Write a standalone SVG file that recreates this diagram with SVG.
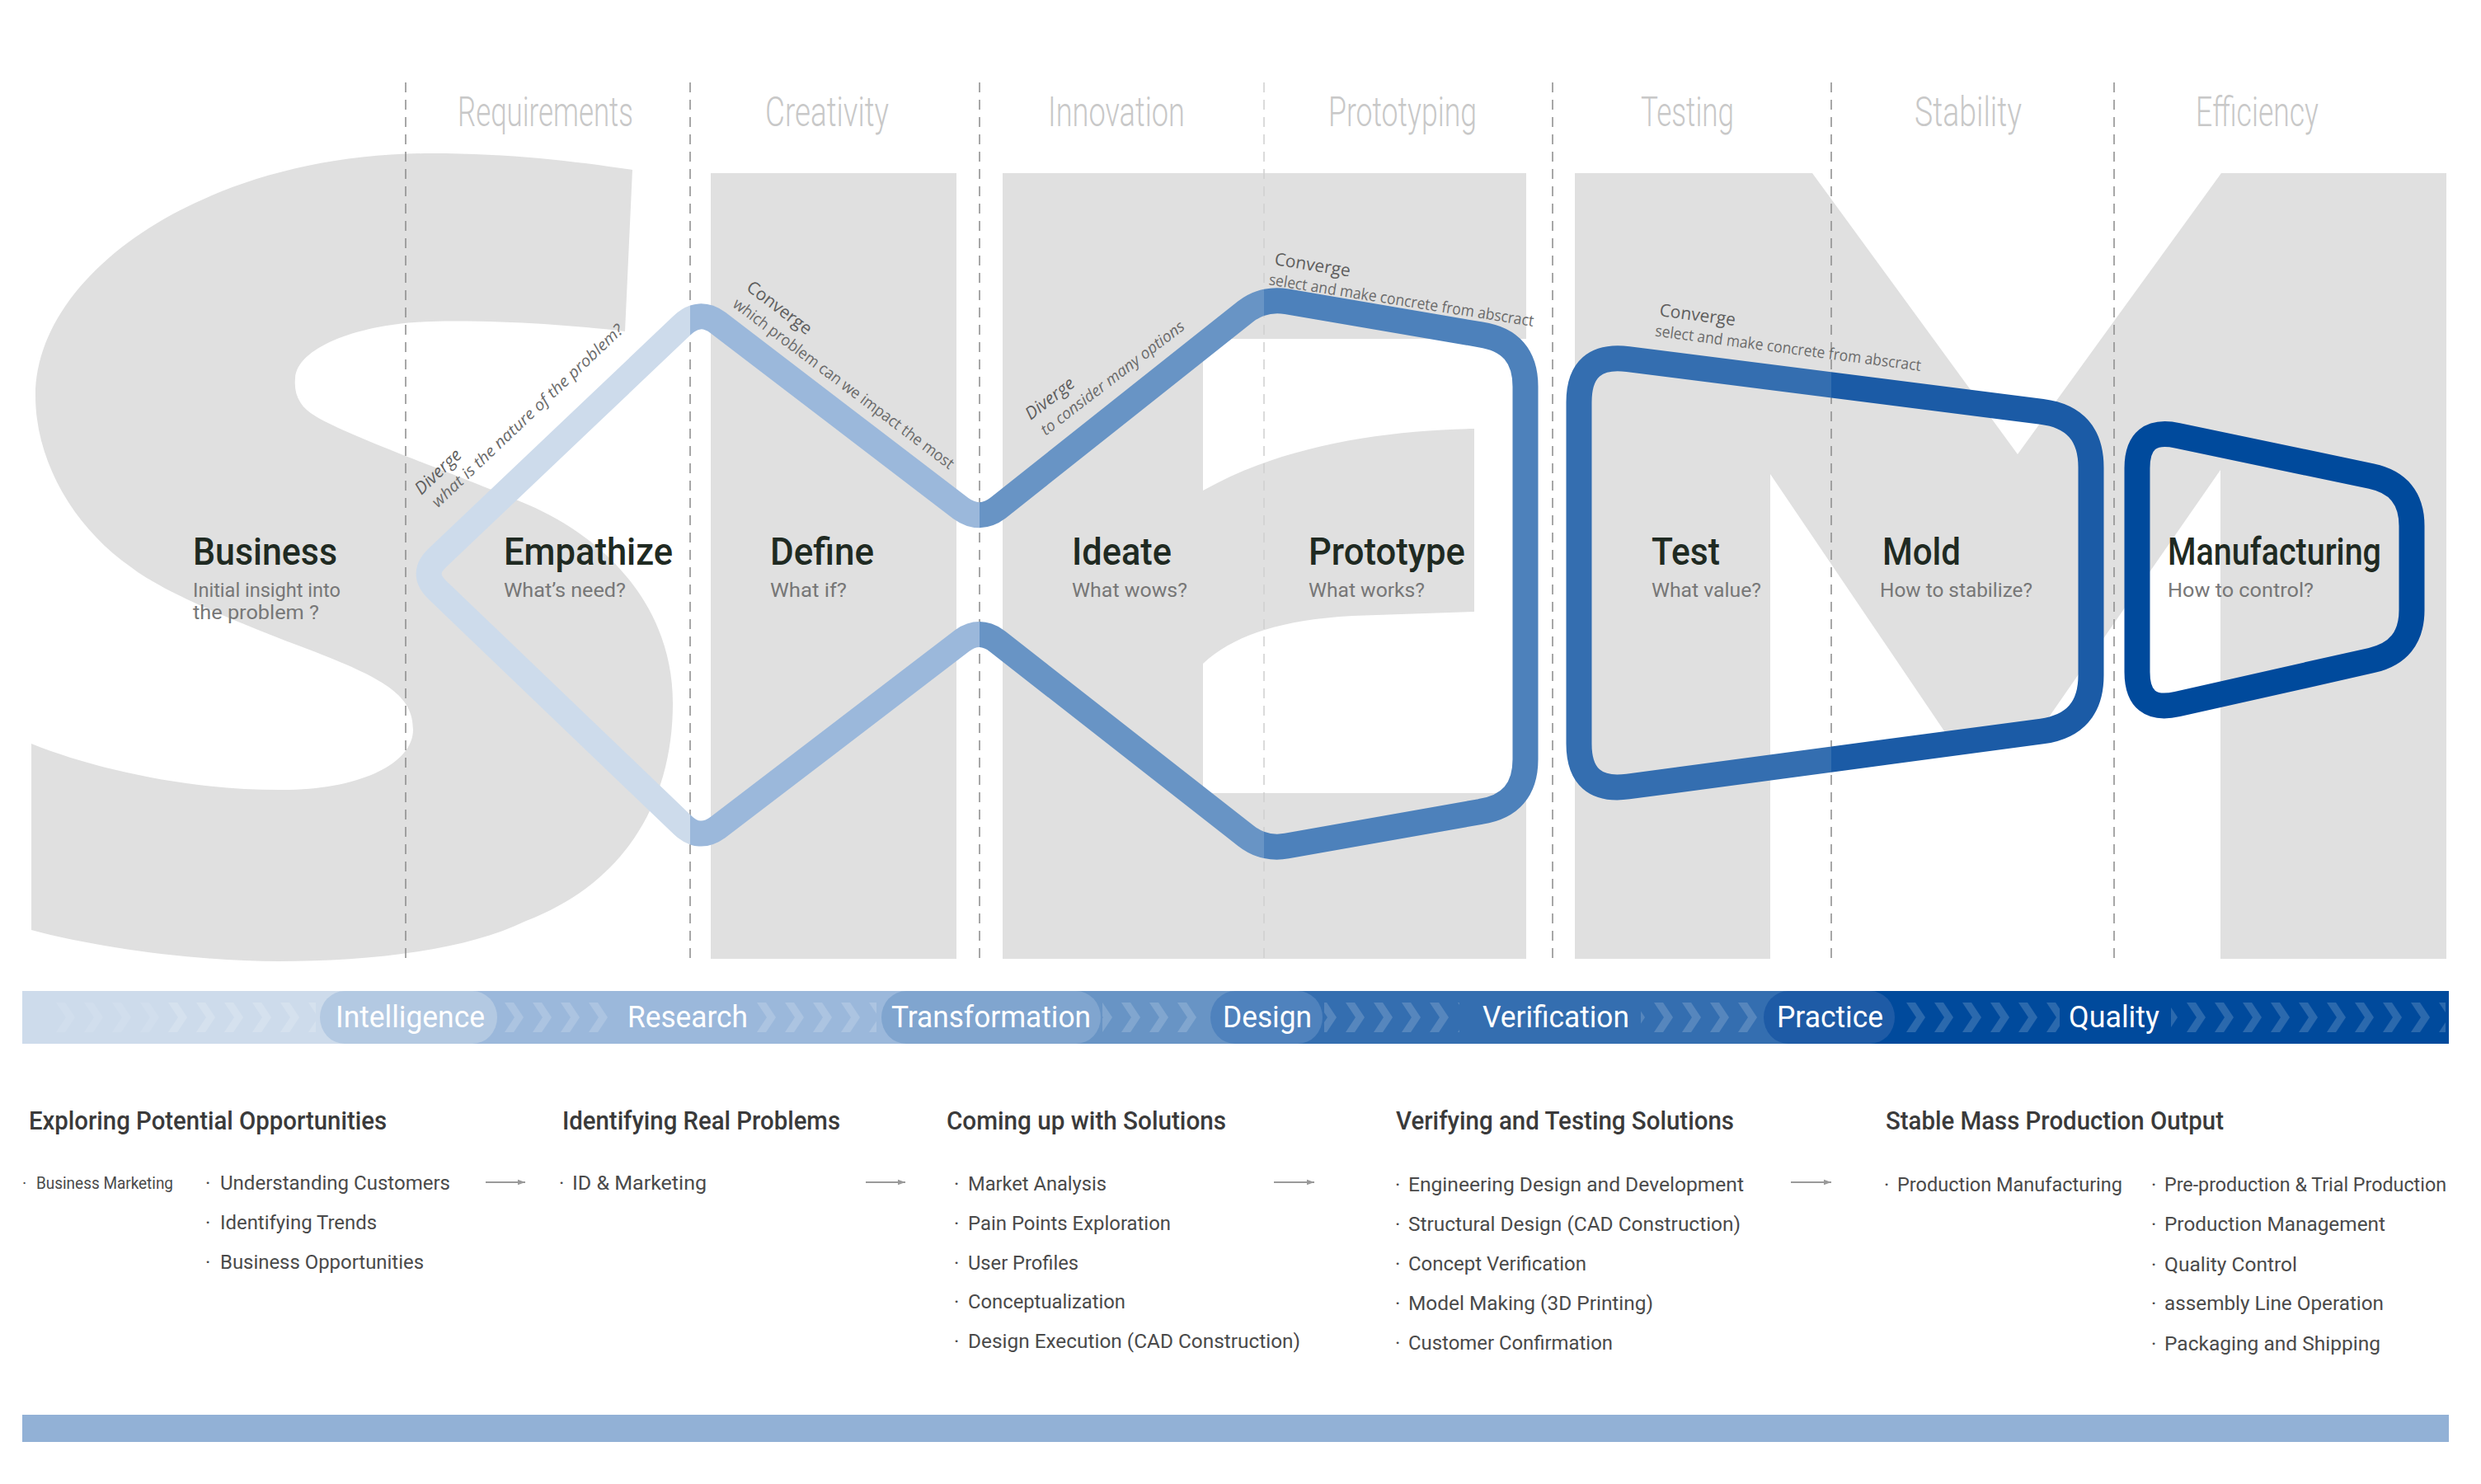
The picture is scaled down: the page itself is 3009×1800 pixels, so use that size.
<svg xmlns="http://www.w3.org/2000/svg" width="3009" height="1800" viewBox="0 0 3009 1800">
<defs>
<style>
.hd{font-family:Roboto,"Liberation Sans",sans-serif;font-weight:300;font-size:50px;fill:#c8c8c8}
.ttl{font-family:Roboto,"Liberation Sans",sans-serif;font-weight:500;font-size:46px;fill:#1f2a22}
.sub{font-family:Roboto,"Liberation Sans",sans-serif;font-weight:400;font-size:24px;fill:#777}
.lbl{font-family:"Open Sans","Liberation Sans",sans-serif;font-size:19px;fill:#6b6b6b}
.lt{font-size:21px;fill:#5e5e5e}
.it{font-style:italic}
.bar{font-family:Roboto,"Liberation Sans",sans-serif;font-weight:400;font-size:36px;fill:#fff}
.sec{font-family:Roboto,"Liberation Sans",sans-serif;font-weight:500;font-size:31px;fill:#3a3a3a}
.item{font-family:Roboto,"Liberation Sans",sans-serif;font-weight:400;font-size:24px;fill:#4a4a4a}
.small{font-size:20px}
.dash{stroke:#8a8a8a;stroke-width:1.5;stroke-dasharray:12 9;fill:none}
.flow{fill:none;stroke-width:31;stroke-linejoin:round}
.letter{fill:#e0e0e0}
.arrow{stroke:#9a9a9a;stroke-width:2;fill:none}
.chev{fill:url(#chev)}
</style>
<clipPath id="b0"><rect x="0" y="0" width="837" height="1800"/></clipPath>
<clipPath id="b1"><rect x="837" y="0" width="351" height="1800"/></clipPath>
<clipPath id="b2"><rect x="1188" y="0" width="345" height="1800"/></clipPath>
<clipPath id="b3"><rect x="1533" y="0" width="350" height="1800"/></clipPath>
<clipPath id="b4"><rect x="1883" y="0" width="338" height="1800"/></clipPath>
<clipPath id="b5"><rect x="2221" y="0" width="343" height="1800"/></clipPath>
<path id="loopA" d="M 870.7 1003.5 Q 848 1020 827.8 1000.6 L 530.2 715.4 Q 510 696 530.3 676.7 L 827.7 394.3 Q 848 375 870.7 391.4 L 1165.3 616.6 Q 1188 633 1210.4 616.1 L 1510.6 377.9 Q 1533 361 1560.6 365.7 L 1795.6 405.9 Q 1850 414 1850 469 L 1850 921 Q 1850 976 1795.6 984.4 L 1560.6 1026.1 Q 1533 1031 1510.9 1013.7 L 1210.1 778.3 Q 1188 761 1165.7 778 Z"/>
<path id="loopB" d="M 1915 488 Q 1915 428 1974.5 435.6 L 2476.5 499.4 Q 2536 507 2536 567 L 2536 819 Q 2536 879 2476.5 887 L 1974.5 954 Q 1915 962 1915 902 Z"/>
<pattern id="chev" x="0" y="1216" width="34" height="36" patternUnits="userSpaceOnUse">
<path d="M0 0 H11 L23 18 L11 36 H0 L12 18 Z" fill="#fff" fill-opacity="0.17"/>
</pattern>
<marker id="arr" viewBox="0 0 10 10" refX="10" refY="5" markerWidth="9" markerHeight="9" markerUnits="userSpaceOnUse" orient="auto">
<path d="M0 1.5 L10 5 L0 8.5 Z" fill="#9a9a9a"/>
</marker>
</defs>

<rect x="0" y="0" width="3009" height="1800" fill="#fff"/>

<!-- background letters -->
<g id="letters">
<path class="letter" d="M 383 505 C 420 528 560 578 640 612 C 740 655 816 740 816 853 C 816 970 760 1070 638 1117 C 560 1155 440 1166 338 1166 C 240 1166 120 1150 38 1128 L 38 902 C 120 935 240 960 351 958 C 440 956 501 925 501 885 C 501 845 470 825 383 791 C 300 760 200 720 159 688 C 90 640 43 560 43 480 C 43 330 250 186 523 186 C 620 186 700 196 767 206 L 758 402 C 690 394 600 388 523 390 C 440 392 360 420 358 459 C 356 480 365 495 383 505 Z"/>
<rect class="letter" x="862" y="210" width="298" height="953"/>
<rect class="letter" x="1216" y="210" width="635" height="953"/>
<path fill="#fff" d="M 1459 411 H 1851 V 962 H 1459 V 805 C 1495 772 1550 752 1640 747 L 1788 742 V 520 C 1680 522 1555 540 1459 595 Z"/>
<path class="letter" d="M 1910 210 L 2198 210 L 2447 551 L 2694 210 L 2967 210 L 2967 1163 L 2693 1163 L 2693 570 L 2473 887 L 2369 903 L 2147 575 L 2147 1163 L 1910 1163 Z"/>
</g>

<!-- column dividers -->
<g id="dividers">
<line class="dash" x1="492" y1="100" x2="492" y2="1163"/>
<line class="dash" x1="837" y1="100" x2="837" y2="1163"/>
<line class="dash" x1="1188" y1="100" x2="1188" y2="1163"/>
<line class="dash" x1="1533" y1="100" x2="1533" y2="1163" style="stroke:#d0d0d0"/>
<line class="dash" x1="1883" y1="100" x2="1883" y2="1163"/>
<line class="dash" x1="2221" y1="100" x2="2221" y2="1163"/>
<line class="dash" x1="2564" y1="100" x2="2564" y2="1163"/>
</g>

<!-- column headings -->
<g id="column-headings">
<text class="hd" x="555" y="153" textLength="213" lengthAdjust="spacingAndGlyphs">Requirements</text>
<text class="hd" x="928" y="153" textLength="150" lengthAdjust="spacingAndGlyphs">Creativity</text>
<text class="hd" x="1271" y="153" textLength="166" lengthAdjust="spacingAndGlyphs">Innovation</text>
<text class="hd" x="1611" y="153" textLength="180" lengthAdjust="spacingAndGlyphs">Prototyping</text>
<text class="hd" x="1990" y="153" textLength="113" lengthAdjust="spacingAndGlyphs">Testing</text>
<text class="hd" x="2322" y="153" textLength="130" lengthAdjust="spacingAndGlyphs">Stability</text>
<text class="hd" x="2663" y="153" textLength="149" lengthAdjust="spacingAndGlyphs">Efficiency</text>
</g>

<!-- connectors / flow lines -->
<g id="connectors">
<use href="#loopA" class="flow" stroke="#cddbeb" clip-path="url(#b0)"/>
<use href="#loopA" class="flow" stroke="#9bb8db" clip-path="url(#b1)"/>
<use href="#loopA" class="flow" stroke="#6894c5" clip-path="url(#b2)"/>
<use href="#loopA" class="flow" stroke="#4d81bb" clip-path="url(#b3)"/>
<use href="#loopB" class="flow" stroke="#346eb0" clip-path="url(#b4)"/>
<use href="#loopB" class="flow" stroke="#1b5ba6" clip-path="url(#b5)"/>
<path class="flow" stroke="#004a9c" d="M 2592 568 Q 2592 518 2640.9 528.3 L 2876.1 577.7 Q 2925 588 2925 638 L 2925 740 Q 2925 790 2876.2 801 L 2640.8 854 Q 2592 865 2592 815 Z"/>
</g>

<!-- connector labels -->
<g id="connector-labels">
<g transform="translate(511,601) rotate(-43.5)">
<text class="lbl lt it" x="0" y="0">Diverge</text>
<text class="lbl it" x="4" y="25" textLength="312" lengthAdjust="spacingAndGlyphs">what is the nature of the problem?</text>
</g>
<g transform="translate(904,351) rotate(37)">
<text class="lbl lt" x="0" y="0">Converge</text>
<text class="lbl" x="-1" y="26" textLength="330" lengthAdjust="spacingAndGlyphs">which problem can we impact the most</text>
</g>
<g transform="translate(1250,510) rotate(-37.5)">
<text class="lbl lt it" x="0" y="0">Diverge</text>
<text class="lbl it" x="3" y="26" textLength="214" lengthAdjust="spacingAndGlyphs">to consider many options</text>
</g>
<g transform="translate(1545,321) rotate(9)">
<text class="lbl lt" x="0" y="0">Converge</text>
<text class="lbl" x="-3" y="25" textLength="325" lengthAdjust="spacingAndGlyphs">select and make concrete from abscract</text>
</g>
<g transform="translate(2012,383) rotate(7.5)">
<text class="lbl lt" x="0" y="0">Converge</text>
<text class="lbl" x="-2" y="25" textLength="325" lengthAdjust="spacingAndGlyphs">select and make concrete from abscract</text>
</g>
</g>

<!-- stage nodes -->
<g id="node-business">
<text class="ttl" x="234" y="685" textLength="175" lengthAdjust="spacingAndGlyphs">Business</text>
<text class="sub" x="234" y="724" textLength="179" lengthAdjust="spacingAndGlyphs">Initial insight into</text>
<text class="sub" x="234" y="751" textLength="153" lengthAdjust="spacingAndGlyphs">the problem ?</text>
</g>
<g id="node-empathize">
<text class="ttl" x="611" y="685" textLength="205" lengthAdjust="spacingAndGlyphs">Empathize</text>
<text class="sub" x="611" y="724" textLength="148" lengthAdjust="spacingAndGlyphs">What’s need?</text>
</g>
<g id="node-define">
<text class="ttl" x="934" y="685" textLength="126" lengthAdjust="spacingAndGlyphs">Define</text>
<text class="sub" x="934" y="724" textLength="93" lengthAdjust="spacingAndGlyphs">What if?</text>
</g>
<g id="node-ideate">
<text class="ttl" x="1300" y="685" textLength="121" lengthAdjust="spacingAndGlyphs">Ideate</text>
<text class="sub" x="1300" y="724" textLength="140" lengthAdjust="spacingAndGlyphs">What wows?</text>
</g>
<g id="node-prototype">
<text class="ttl" x="1587" y="685" textLength="190" lengthAdjust="spacingAndGlyphs">Prototype</text>
<text class="sub" x="1587" y="724" textLength="141" lengthAdjust="spacingAndGlyphs">What works?</text>
</g>
<g id="node-test">
<text class="ttl" x="2003" y="685" textLength="83" lengthAdjust="spacingAndGlyphs">Test</text>
<text class="sub" x="2003" y="724" textLength="133" lengthAdjust="spacingAndGlyphs">What value?</text>
</g>
<g id="node-mold">
<text class="ttl" x="2283" y="685" textLength="95" lengthAdjust="spacingAndGlyphs">Mold</text>
<text class="sub" x="2280" y="724" textLength="185" lengthAdjust="spacingAndGlyphs">How to stabilize?</text>
</g>
<g id="node-manufacturing">
<text class="ttl" x="2629" y="685" textLength="259" lengthAdjust="spacingAndGlyphs">Manufacturing</text>
<text class="sub" x="2629" y="724" textLength="177" lengthAdjust="spacingAndGlyphs">How to control?</text>
</g>

<!-- process bar -->
<g id="process-bar">
<rect x="27" y="1202" width="2943" height="64" fill="#cddbeb"/>
<rect x="500" y="1202" width="700" height="64" fill="#9bb8db"/>
<rect x="1200" y="1202" width="336" height="64" fill="#6894c5"/>
<rect x="1536" y="1202" width="684" height="64" fill="#346eb0"/>
<rect x="2220" y="1202" width="750" height="64" fill="#004a9c"/>
<rect x="60" y="1216" width="140" height="36" class="chev" opacity="0.5"/>
<rect x="200" y="1216" width="183" height="36" class="chev"/>
<rect x="605" y="1216" width="143" height="36" class="chev"/>
<rect x="915" y="1216" width="148" height="36" class="chev"/>
<rect x="1337" y="1216" width="121" height="36" class="chev"/>
<rect x="1606" y="1216" width="164" height="36" class="chev"/>
<rect x="1990" y="1216" width="143" height="36" class="chev"/>
<rect x="2302" y="1216" width="196" height="36" class="chev"/>
<rect x="2633" y="1216" width="333" height="36" class="chev"/>
<rect x="388" y="1202" width="215" height="64" rx="30" ry="32" fill="#b3c9e2"/>
<rect x="1069" y="1202" width="266" height="64" rx="30" ry="32" fill="#80a5cf"/>
<rect x="1468" y="1202" width="136" height="64" rx="30" ry="32" fill="#4f82bd"/>
<rect x="2139" y="1202" width="159" height="64" rx="30" ry="32" fill="#1e5ba6"/>
<text class="bar" x="407" y="1246" textLength="181" lengthAdjust="spacingAndGlyphs">Intelligence</text>
<text class="bar" x="761" y="1246" textLength="146" lengthAdjust="spacingAndGlyphs">Research</text>
<text class="bar" x="1081" y="1246" textLength="242" lengthAdjust="spacingAndGlyphs">Transformation</text>
<text class="bar" x="1483" y="1246" textLength="108" lengthAdjust="spacingAndGlyphs">Design</text>
<text class="bar" x="1798" y="1246" textLength="178" lengthAdjust="spacingAndGlyphs">Verification</text>
<text class="bar" x="2155" y="1246" textLength="129" lengthAdjust="spacingAndGlyphs">Practice</text>
<text class="bar" x="2509" y="1246" textLength="110" lengthAdjust="spacingAndGlyphs">Quality</text>
</g>

<!-- lower sections -->
<g id="section-explore">
<text class="sec" x="35" y="1370" textLength="434" lengthAdjust="spacingAndGlyphs">Exploring Potential Opportunities</text>
<text class="item small" x="27" y="1442">·</text>
<text class="item small" x="44" y="1442" textLength="166" lengthAdjust="spacingAndGlyphs">Business Marketing</text>
<text class="item" x="249" y="1443">·</text>
<text class="item" x="267" y="1443" textLength="279" lengthAdjust="spacingAndGlyphs">Understanding Customers</text>
<text class="item" x="249" y="1491">·</text>
<text class="item" x="267" y="1491" textLength="190" lengthAdjust="spacingAndGlyphs">Identifying Trends</text>
<text class="item" x="249" y="1539">·</text>
<text class="item" x="267" y="1539" textLength="247" lengthAdjust="spacingAndGlyphs">Business Opportunities</text>
</g>
<g id="section-identify">
<text class="sec" x="682" y="1370" textLength="337" lengthAdjust="spacingAndGlyphs">Identifying Real Problems</text>
<text class="item" x="678" y="1443">·</text>
<text class="item" x="694" y="1443" textLength="163" lengthAdjust="spacingAndGlyphs">ID &amp; Marketing</text>
</g>
<g id="section-solutions">
<text class="sec" x="1148" y="1370" textLength="339" lengthAdjust="spacingAndGlyphs">Coming up with Solutions</text>
<text class="item" x="1157" y="1444">·</text>
<text class="item" x="1174" y="1444" textLength="168" lengthAdjust="spacingAndGlyphs">Market Analysis</text>
<text class="item" x="1157" y="1492">·</text>
<text class="item" x="1174" y="1492" textLength="246" lengthAdjust="spacingAndGlyphs">Pain Points Exploration</text>
<text class="item" x="1157" y="1540">·</text>
<text class="item" x="1174" y="1540" textLength="134" lengthAdjust="spacingAndGlyphs">User Profiles</text>
<text class="item" x="1157" y="1587">·</text>
<text class="item" x="1174" y="1587" textLength="191" lengthAdjust="spacingAndGlyphs">Conceptualization</text>
<text class="item" x="1157" y="1635">·</text>
<text class="item" x="1174" y="1635" textLength="403" lengthAdjust="spacingAndGlyphs">Design Execution (CAD Construction)</text>
</g>
<g id="section-verify">
<text class="sec" x="1693" y="1370" textLength="410" lengthAdjust="spacingAndGlyphs">Verifying and Testing Solutions</text>
<text class="item" x="1692" y="1445">·</text>
<text class="item" x="1708" y="1445" textLength="407" lengthAdjust="spacingAndGlyphs">Engineering Design and Development</text>
<text class="item" x="1692" y="1493">·</text>
<text class="item" x="1708" y="1493" textLength="403" lengthAdjust="spacingAndGlyphs">Structural Design (CAD Construction)</text>
<text class="item" x="1692" y="1541">·</text>
<text class="item" x="1708" y="1541" textLength="216" lengthAdjust="spacingAndGlyphs">Concept Verification</text>
<text class="item" x="1692" y="1589">·</text>
<text class="item" x="1708" y="1589" textLength="297" lengthAdjust="spacingAndGlyphs">Model Making (3D Printing)</text>
<text class="item" x="1692" y="1637">·</text>
<text class="item" x="1708" y="1637" textLength="248" lengthAdjust="spacingAndGlyphs">Customer Confirmation</text>
</g>
<g id="section-production">
<text class="sec" x="2287" y="1370" textLength="410" lengthAdjust="spacingAndGlyphs">Stable Mass Production Output</text>
<text class="item" x="2285" y="1445">·</text>
<text class="item" x="2301" y="1445" textLength="273" lengthAdjust="spacingAndGlyphs">Production Manufacturing</text>
<text class="item" x="2609" y="1445">·</text>
<text class="item" x="2625" y="1445" textLength="342" lengthAdjust="spacingAndGlyphs">Pre-production &amp; Trial Production</text>
<text class="item" x="2609" y="1493">·</text>
<text class="item" x="2625" y="1493" textLength="268" lengthAdjust="spacingAndGlyphs">Production Management</text>
<text class="item" x="2609" y="1542">·</text>
<text class="item" x="2625" y="1542" textLength="161" lengthAdjust="spacingAndGlyphs">Quality Control</text>
<text class="item" x="2609" y="1589">·</text>
<text class="item" x="2625" y="1589" textLength="266" lengthAdjust="spacingAndGlyphs">assembly Line Operation</text>
<text class="item" x="2609" y="1638">·</text>
<text class="item" x="2625" y="1638" textLength="262" lengthAdjust="spacingAndGlyphs">Packaging and Shipping</text>
</g>
<g id="section-arrows">
<line class="arrow" x1="589" y1="1434" x2="637" y2="1434" marker-end="url(#arr)"/>
<line class="arrow" x1="1050" y1="1434" x2="1098" y2="1434" marker-end="url(#arr)"/>
<line class="arrow" x1="1545" y1="1434" x2="1594" y2="1434" marker-end="url(#arr)"/>
<line class="arrow" x1="2172" y1="1434" x2="2221" y2="1434" marker-end="url(#arr)"/>
</g>

<rect id="footer-bar" x="27" y="1716" width="2943" height="33" fill="#92b1d6"/>
</svg>
